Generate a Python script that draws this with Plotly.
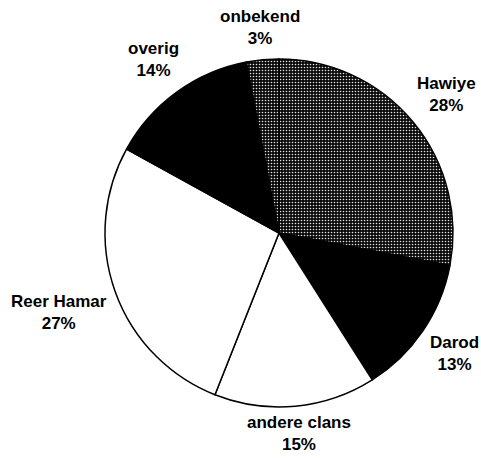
import math
import plotly.graph_objects as go

labels = ["Hawiye", "Darod", "andere clans", "Reer Hamar", "overig", "onbekend"]
values = [28, 13, 15, 27, 14, 3]
colors = ["#3a3a3a", "#000000", "#ffffff", "#ffffff", "#000000", "#3a3a3a"]
patterns = [".", "", "", "", "", "."]

W, H = 481, 458
DOM_X = [0.2162, 0.9439]
DOM_Y = [0.1114, 0.8712]
FONT_SIZE = 17

fig = go.Figure(go.Pie(
    labels=labels,
    values=values,
    sort=False,
    direction="clockwise",
    rotation=0,
    marker=dict(
        colors=colors,
        line=dict(color="#000000", width=1.5),
        pattern=dict(shape=patterns, fgcolor="#e0e0e0", bgcolor="#0a0a0a",
                     size=3, solidity=0.22),
    ),
    textinfo="none",
    hoverinfo="label+percent",
    showlegend=False,
    domain=dict(x=DOM_X, y=DOM_Y),
))

# Label placement derived from the slice angles (Arial Bold advance widths)
WID = {"a": 556, "b": 611, "c": 556, "d": 611, "e": 556, "g": 611, "i": 278,
       "k": 556, "l": 278, "m": 889, "n": 611, "o": 611, "r": 389, "s": 556,
       "v": 556, "w": 778, "y": 556, "H": 722, "D": 722, "R": 722, " ": 278,
       "%": 889}


def text_w(s):
    return sum(WID.get(ch, 556) for ch in s) * FONT_SIZE / 1000.0


cx = (DOM_X[0] + DOM_X[1]) / 2
cy = (DOM_Y[0] + DOM_Y[1]) / 2
radius_px = min((DOM_X[1] - DOM_X[0]) * W, (DOM_Y[1] - DOM_Y[0]) * H) / 2
gap = 7
total = sum(values)
cum = 0
for lab, val in zip(labels, values):
    theta = 2 * math.pi * (cum + val / 2) / total
    cum += val
    pct = f"{round(100 * val / total)}%"
    w = max(text_w(lab), text_w(pct))
    h = 2 * FONT_SIZE * 1.3
    s, c = math.sin(theta), math.cos(theta)
    r = radius_px + gap + (w / 2) * abs(s) + (h / 2) * abs(c)
    px = cx * W + r * s
    py = cy * H + r * c
    # keep each label box inside the figure
    hw, hh = w / 2 + 2, h / 2 + 2
    px = min(max(px, hw), W - hw)
    py = min(max(py, hh), H - hh)
    fig.add_annotation(
        x=px / W, y=py / H,
        xref="paper", yref="paper", xanchor="center", yanchor="middle",
        text=f"<b>{lab}</b><br><b>{pct}</b>",
        showarrow=False, align="center",
        font=dict(family="Liberation Sans, Arial", size=FONT_SIZE, color="#000000"),
    )

fig.update_layout(
    width=W, height=H,
    margin=dict(l=0, r=0, t=0, b=0),
    paper_bgcolor="#ffffff",
    plot_bgcolor="#ffffff",
)

fig.write_html("out.html", config={"displayModeBar": False},
               post_script="document.body.style.margin='0';")
